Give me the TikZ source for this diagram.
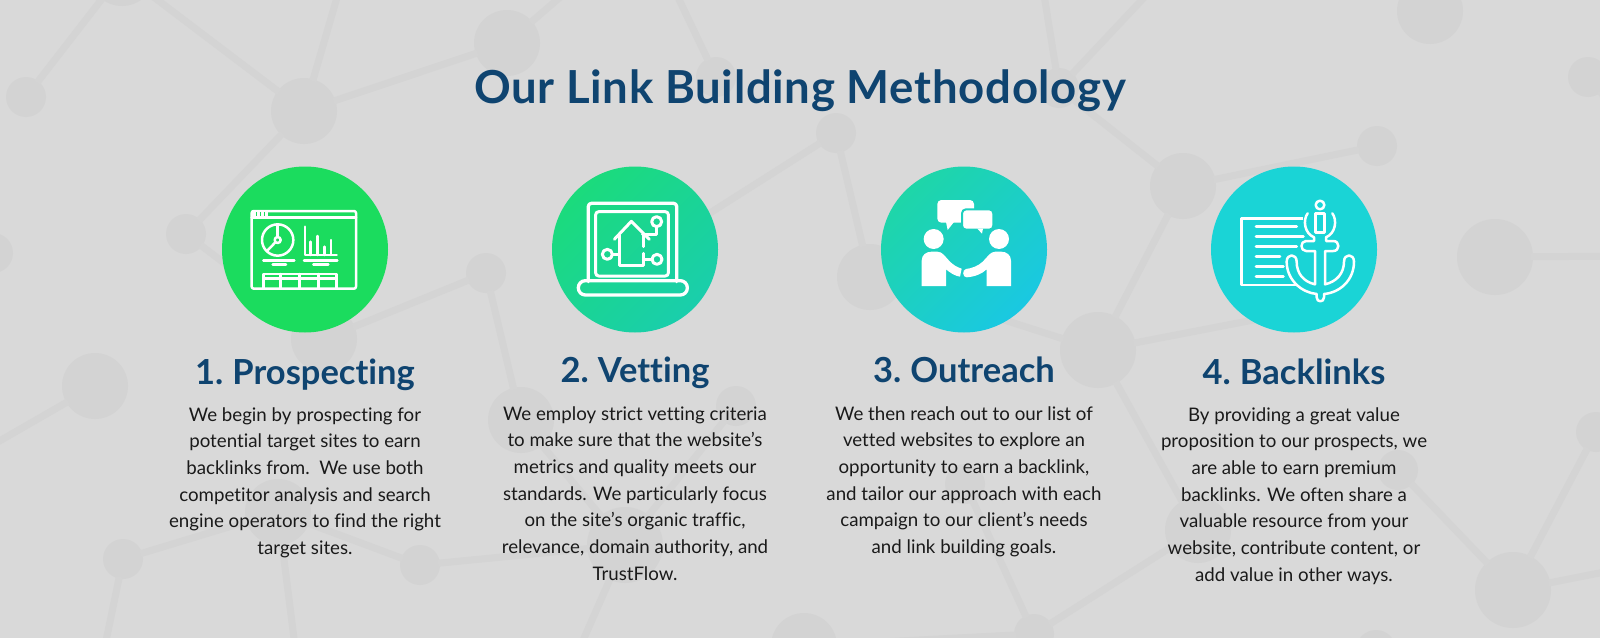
\documentclass[tikz,border=0pt]{standalone}
\usepackage{fontspec}
\setmainfont{Lato}[Ligatures=NoCommon]
\newfontfamily\headfont{Lato}[UprightFont=* Bold,Ligatures=NoCommon,LetterSpace=1.5]
\newfontfamily\stepfont{Lato}[UprightFont=* Bold,Ligatures=NoCommon,WordSpace=0.75]
\definecolor{bgc}{HTML}{D9D9D9}
\definecolor{netc}{HTML}{D3D3D3}
\definecolor{linec}{HTML}{D4D4D4}
\definecolor{navy}{HTML}{0F4470}
\definecolor{bodyc}{HTML}{1A1A1A}
\definecolor{ga}{HTML}{1BDC5E}
\definecolor{gb}{HTML}{1BDB7C}
\definecolor{gc}{HTML}{1ACEAC}
\definecolor{gd}{HTML}{1ED6A8}
\definecolor{ge}{HTML}{1AC8E2}
\definecolor{gf}{HTML}{1AD4D6}
\tikzset{
  netS/.style={circle,fill=netc,inner sep=0pt,minimum size=40pt},
  netM/.style={circle,fill=netc,inner sep=0pt,minimum size=66pt},
  netL/.style={circle,fill=netc,inner sep=0pt,minimum size=76pt},
  netline/.style={draw=linec,line width=7pt,shorten <=-2pt,shorten >=-2pt},
  badge/.style 2 args={circle,inner sep=0pt,minimum size=166pt,top color=#1,bottom color=#2,shading angle=45},
  titletext/.style={anchor=base,inner sep=0pt,text=navy,font=\headfont\fontsize{45.5}{50}\selectfont},
  headtext/.style={anchor=base,inner sep=0pt,text=navy,font=\stepfont\fontsize{34.5}{40}\selectfont},
  bodytext/.style={anchor=north,inner sep=0pt,text=bodyc,align=center,font=\fontsize{18.7}{26.67}\selectfont},
  icon/.style={draw=white,line width=#1,line join=round,line cap=round},
  icon/.default=2pt,
  zoomunits/.style={x=0.33333pt,y=-0.33333pt},
}
\newcommand{\firstline}{\rule{0pt}{16pt}}
\begin{document}
\begin{tikzpicture}[x=1pt,y=-1pt]
\useasboundingbox (0,0) rectangle (1600,637);
\fill[bgc] (-3,-3) rectangle (1603,640);
\node[netM] (A) at (122,-27) {};
\node[netS] (B) at (26,97) {};
\node[netM] (C) at (304,111) {};
\node[netS] (D) at (186,234) {};
\node[netM] (E) at (507,43) {};
\node[netS] (F) at (-7,253) {};
\node[netS] (G) at (486,273) {};
\node[netM] (H) at (324,339) {};
\node[netM] (I) at (95,386) {};
\node[netS] (J) at (123,559) {};
\node[netM] (K) at (278,512) {};
\node[netS] (L) at (420,565) {};
\node[netM] (M) at (521,420) {};
\node[netS] (N) at (716,77) {};
\node[netS] (O) at (836,133) {};
\node[netM] (P) at (870,277) {};
\node[netS] (Q) at (1059,88) {};
\node[netM] (R) at (1183,186) {};
\node[netS] (S) at (1377,146) {};
\node[netM] (T) at (1430,11) {};
\node[netS] (U) at (1588,77) {};
\node[netL] (V) at (1495,257) {};
\node[netL] (W) at (1098,350) {};
\node[netS] (X) at (1398,470) {};
\node[netL] (Y) at (1513,590) {};
\node[netS] (Z) at (1596,432) {};
\node[netM] (AA) at (1198,530) {};
\node[netS] (AB) at (1376,650) {};
\node[netS] (AC) at (736,406) {};
\node[netL] (AD) at (625,545) {};
\node[netS] (AE) at (965,484) {};
\node[netM] (AF) at (804,646) {};
\node[netS] (AG) at (1034,634) {};
\coordinate (fC) at (345,-30);
\coordinate (fE) at (580,-20);
\coordinate (fI) at (-30,458);
\coordinate (fJ) at (100,670);
\coordinate (fK) at (298,670);
\coordinate (fAD) at (570,670);
\coordinate (fN) at (665,-30);
\coordinate (fQa) at (1040,-30);
\coordinate (fQb) at (1170,-30);
\coordinate (fV) at (1640,256);
\coordinate (fU) at (1640,140);
\coordinate (fY) at (1640,565);
\coordinate (fO) at (628,265);
\coordinate (fW) at (1300,311);
\foreach \a/\b in {A/B,A/C,C/fC,C/E,C/D,D/H,H/G,G/M,I/fI,J/K,J/fJ,K/L,K/fK,L/AD,M/AD,AD/AC,AD/fAD,E/fE,N/fN,O/fO,O/P,P/W,Q/fQa,Q/fQb,Q/R,R/S,R/W,W/AA,W/fW,AA/AG,AE/AG,AF/AG,X/Y,Y/Z,Y/fY,V/fV,U/fU}
  \draw[netline] (\a) -- (\b);
% badges
\node[badge={ga}{ga}] (b1) at (305,249.5) {};
\node[badge={gb}{gc}] (b2) at (635,249.5) {};
\node[badge={gd}{ge}] (b3) at (964,249.5) {};
\node[badge={gf}{gf}] (b4) at (1294,249.5) {};
% icon 1
\begin{scope}[shift={(200,150)},zoomunits]
\draw[icon=2.5pt,rounded corners=2pt] (155,183) rectangle (468,416);
\draw[icon=2.5pt] (155,202) -- (468,202);
\fill[white] (155,183) rectangle (205,202);
\foreach \x in {167,180,193} \fill[ga] (\x,187) rectangle (\x+3,198);
\draw[icon=2.5pt] (233,270) circle (47);
\draw[icon=2.5pt] (233,223) -- (233,261);
\draw[icon=2.5pt] (233,270) circle (9);
\draw[icon=2.5pt] (226,277) -- (200,304);
\draw[icon=2.5pt] (315,230) -- (315,315) -- (410,315);
\foreach \x/\y in {332/275,353/258,373/290,393/270} \draw[icon=2.5pt] (\x,315) -- (\x,\y);
\draw[icon=2.5pt] (190,331) -- (283,331);
\draw[icon=2.5pt] (312,331) -- (412,331);
\draw[icon=2.5pt] (218,343) -- (258,343);
\draw[icon=2.5pt] (340,343) -- (385,343);
\draw[icon=2.5pt] (190,416) -- (190,372) -- (410,372) -- (410,416);
\draw[icon=2.5pt] (190,385) -- (410,385);
\foreach \x in {242,298,355} \draw[icon=2.5pt] (\x,372) -- (\x,416);
\end{scope}
% icon 2
\begin{scope}[shift={(530,150)},zoomunits]
\draw[icon=3.3pt,rounded corners=3pt] (175,395) -- (175,160) -- (440,160) -- (440,395);
\draw[icon=3.3pt,rounded corners=7pt] (145,392) rectangle (472,435);
\draw[icon=3pt,rounded corners=3pt] (197,185) rectangle (415,378);
\draw[icon=3pt] (253,268) -- (304,214) -- (358,268);
\draw[icon=3pt] (268,255) -- (268,347) -- (340,347) -- (340,310);
\draw[icon=3pt] (340,255) -- (340,290);
\draw[icon=3pt] (338,254) -- (380,254) -- (380,232);
\draw[icon=3pt] (380,215) circle (15);
\draw[icon=3pt] (232,313) circle (15);
\draw[icon=3pt] (247,313) -- (268,313);
\draw[icon=3pt] (381,328) circle (15);
\draw[icon=3pt] (340,328) -- (366,328);
\end{scope}
% icon 3
\begin{scope}[shift={(850,150)},zoomunits]
\fill[white] (251,267) circle (30);
\fill[white] (447,267) circle (30);
\fill[white] (215,408) -- (215,332) .. controls (215,315) and (228,305) .. (245,305) -- (262,305)
  .. controls (278,305) and (285,320) .. (300,335) .. controls (310,345) and (322,352) .. (335,356)
  -- (330,380) .. controls (315,378) and (300,368) .. (288,358) -- (288,408) -- cycle;
\fill[white] (483,408) -- (483,332) .. controls (483,315) and (470,305) .. (453,305) -- (436,305)
  .. controls (420,305) and (412,322) .. (398,335) .. controls (385,348) and (365,355) .. (348,357)
  .. controls (336,359) and (337,382) .. (350,382) .. controls (375,380) and (395,372) .. (410,358) -- (410,408) -- cycle;
\fill[white,rounded corners=4pt] (262,150) rectangle (372,218);
\fill[white] (288,216) -- (293,240) -- (312,216) -- cycle;
\draw[gd!60!ge,line width=2pt,fill=white,rounded corners=4pt] (336,178) rectangle (430,239);
\fill[white] (382,236) -- (396,251) -- (399,236) -- cycle;
\end{scope}
% icon 4
\begin{scope}[shift={(1170,150)},zoomunits]
\draw[icon=2.6pt,line cap=butt] (400,205) -- (214,205) -- (214,405) -- (385,405);
\foreach \y/\e in {230/380,260/400,290/380,320/330,350/340,380/340} \draw[icon=2.8pt] (258,\y) -- (\e,\y);
\draw[icon=2.5pt] (450,165) circle (13);
\draw[icon=2.5pt] (437,190) rectangle (463,248);
\draw[icon=2.5pt] (413,190) .. controls (398,210) and (403,250) .. (432,262) -- (432,273) -- (408,273)
  .. controls (390,273) and (390,303) .. (408,303) -- (435,303) -- (435,403)
  .. controls (400,395) and (380,370) .. (380,335)
  .. controls (380,310) and (350,310) .. (350,335)
  .. controls (350,390) and (395,428) .. (440,432) -- (440,442)
  .. controls (440,458) and (462,458) .. (462,442) -- (462,432)
  .. controls (510,428) and (552,390) .. (552,335)
  .. controls (552,310) and (522,310) .. (522,335)
  .. controls (522,370) and (500,395) .. (465,403) -- (465,303) -- (490,303)
  .. controls (510,303) and (510,273) .. (490,273) -- (468,273) -- (468,262)
  .. controls (497,250) and (502,210) .. (487,190);
\end{scope}
% text
\node[titletext] (title) at (800,103) {Our Link Building Methodology};
\node[headtext] (h1) at (305,384) {1. Prospecting};
\node[headtext] (h2) at (635,382) {2. Vetting};
\node[headtext] (h3) at (964,382) {3. Outreach};
\node[headtext] (h4) at (1294,384) {4. Backlinks};
\node[bodytext] (t1) at (305,405) {\firstline We begin by prospecting for\\potential target sites to earn\\backlinks from.\ \ We use both\\competitor analysis and search\\engine operators to find the right\\target sites.};
\node[bodytext] (t2) at (635,404) {\firstline We employ strict vetting criteria\\to make sure that the website’s\\metrics and quality meets our\\standards. We particularly focus\\on the site’s organic traffic,\\relevance, domain authority, and\\TrustFlow.};
\node[bodytext] (t3) at (964,404) {\firstline We then reach out to our list of\\vetted websites to explore an\\opportunity to earn a backlink,\\and tailor our approach with each\\campaign to our client’s needs\\and link building goals.};
\node[bodytext] (t4) at (1294,405) {\firstline By providing a great value\\proposition to our prospects, we\\are able to earn premium\\backlinks. We often share a\\valuable resource from your\\website, contribute content, or\\add value in other ways.};
\end{tikzpicture}
\end{document}
